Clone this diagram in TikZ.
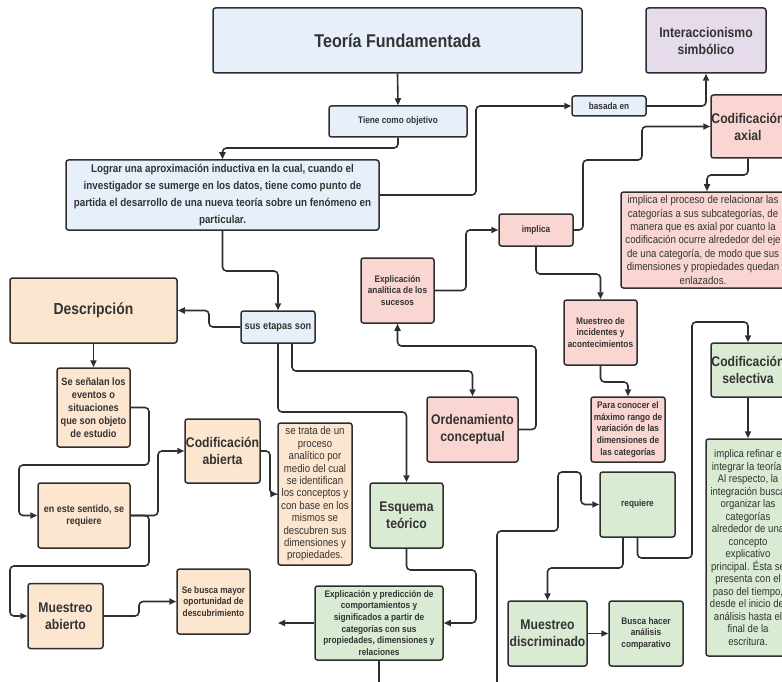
\documentclass[tikz,border=0pt]{standalone}
\usepackage{fontspec}
\setmainfont{Liberation Sans}[FakeStretch=0.87]
\usetikzlibrary{arrows.meta}

\definecolor{linec}{HTML}{2E2E2E}
\definecolor{txt}{HTML}{333333}
\definecolor{cblue}{HTML}{E7F0FA}
\definecolor{clav}{HTML}{E6DBEB}
\definecolor{cpink}{HTML}{F9D6D1}
\definecolor{cpeach}{HTML}{FDE6CF}
\definecolor{cgreen}{HTML}{DAEBD4}

\tikzset{
  box/.style={draw=linec, line width=1.5pt, rounded corners=2.5pt, inner sep=0pt,
    align=center, text=txt},
  bluebox/.style={box, fill=cblue},
  lavbox/.style={box, fill=clav},
  pinkbox/.style={box, fill=cpink},
  peachbox/.style={box, fill=cpeach},
  greenbox/.style={box, fill=cgreen},
  ftitle/.style={font=\fontsize{18.5}{22}\selectfont\bfseries},
  fhead/.style={font=\fontsize{14}{17}\selectfont\bfseries},
  fbig/.style={font=\fontsize{16}{19}\selectfont\bfseries},
  fsmall/.style={font=\fontsize{9.5}{11.7}\selectfont\bfseries},
  fmid/.style={font=\fontsize{10.6}{13.1}\selectfont\bfseries},
  fgoal/.style={font=\fontsize{11.3}{17.3}\selectfont\bfseries},
  freg/.style={font=\fontsize{11.1}{13.4}\selectfont},
  fregb/.style={font=\fontsize{11.1}{12.4}\selectfont},
  conn/.style={draw=linec, line width=1.6pt, rounded corners=4pt},
  arr/.style={conn, -{Triangle[length=7pt,width=6pt]}},
}

\begin{document}
\begin{tikzpicture}[x=1pt, y=-1pt]
\useasboundingbox (0,0) rectangle (782,682);

% ---------- nodes ----------
\node[bluebox, ftitle, minimum width=369pt, minimum height=65pt] (title) at (397.5,40.5) {Teoría Fundamentada};
\node[lavbox, fhead, minimum width=120pt, minimum height=65pt] (inter) at (706,40.5) {Interaccionismo\\simbólico};
\node[bluebox, fsmall, minimum width=138pt, minimum height=31pt] (tiene) at (398,121.5) {Tiene como objetivo};
\node[bluebox, fsmall, minimum width=74pt, minimum height=20pt] (basada) at (609,106) {basada en};
\node[pinkbox, fhead, minimum width=74pt, minimum height=63pt] (axial) at (748,126.5) {Codificación\\axial};
\node[bluebox, fgoal, minimum width=313pt, minimum height=70pt] (lograr) at (222.5,195)
  {Lograr una aproximación inductiva en la cual, cuando el\\
   investigador se sumerge en los datos, tiene como punto de\\
   partida el desarrollo de una nueva teoría sobre un fenómeno en\\
   particular.};
\node[pinkbox, freg, minimum width=164pt, minimum height=96pt] (axialtxt) at (703,240)
  {implica el proceso de relacionar las\\
   categorías a sus subcategorías, de\\
   manera que es axial por cuanto la\\
   codificación ocurre alrededor del eje\\
   de una categoría, de modo que sus\\
   dimensiones y propiedades quedan\\
   enlazados.};
\node[pinkbox, fsmall, minimum width=74pt, minimum height=32pt] (implica) at (536,230) {implica};
\node[pinkbox, fsmall, minimum width=73pt, minimum height=65pt] (explan) at (397.5,290.5)
  {Explicación\\analítica de los\\sucesos};
\node[pinkbox, fsmall, minimum width=73pt, minimum height=65pt] (mincid) at (600.5,332.5)
  {Muestreo de\\incidentes y\\acontecimientos};
\node[peachbox, fbig, minimum width=167pt, minimum height=65pt] (descr) at (93.5,310.5) {Descripción};
\node[bluebox, fmid, minimum width=74pt, minimum height=32pt] (etapas) at (278,327) {sus etapas son};
\node[peachbox, fmid, minimum width=73pt, minimum height=79pt] (senal) at (93.5,407.5)
  {Se señalan los\\eventos o\\situaciones\\que son objeto\\de estudio};
\node[peachbox, fhead, minimum width=75pt, minimum height=64pt] (codab) at (222.5,451) {Codificación\\abierta};
\node[peachbox, fregb, minimum width=74pt, minimum height=142pt] (setrata) at (315,494)
  {se trata de un\\proceso\\analítico por\\medio del cual\\se identifican\\los conceptos y\\
   con base en los\\mismos se\\descubren sus\\dimensiones y\\propiedades.};
\node[pinkbox, fhead, minimum width=91pt, minimum height=65pt] (orden) at (472.5,429.5) {Ordenamiento\\conceptual};
\node[pinkbox, fsmall, minimum width=74pt, minimum height=65pt] (paracon) at (628,429.5)
  {Para conocer el\\máximo rango de\\variación de las\\dimensiones de\\las categorías};
\node[greenbox, fhead, minimum width=74pt, minimum height=54pt] (codsel) at (748,370) {Codificación\\selectiva};
\node[greenbox, font=\fontsize{11}{12.5}\selectfont, minimum width=84pt, minimum height=217pt] (refinar) at (748,547.5)
  {implica refinar e\\integrar la teoría.\\Al respecto, la\\integración busca\\organizar las\\categorías\\
   alrededor de una\\concepto\\explicativo\\principal. Ésta se\\presenta con el\\paso del tiempo,\\
   desde el inicio del\\análisis hasta el\\final de la\\escritura.};
\node[peachbox, font=\fontsize{10.3}{11.7}\selectfont\bfseries, minimum width=92pt, minimum height=65pt] (sentido) at (84,515.5)
  {en este sentido, se\\requiere};
\node[greenbox, fhead, minimum width=73pt, minimum height=65pt] (esquema) at (406.5,515.5) {Esquema\\teórico};
\node[greenbox, fsmall, minimum width=75pt, minimum height=65pt] (requiere) at (637.5,504.5) {requiere};
\node[peachbox, fhead, minimum width=75pt, minimum height=65pt] (muesab) at (65.5,616) {Muestreo\\abierto};
\node[peachbox, fsmall, minimum width=73pt, minimum height=65pt] (busca) at (213.5,601.5)
  {Se busca mayor\\oportunidad de\\descubrimiento};
\node[greenbox, fsmall, minimum width=128pt, minimum height=74pt] (explpred) at (379,623)
  {Explicación y predicción de\\comportamientos y\\significados a partir de\\categorías con sus\\
   propiedades, dimensiones y\\relaciones};
\node[greenbox, fhead, minimum width=79pt, minimum height=65pt] (muesdis) at (547.5,633.5) {Muestreo\\discriminado};
\node[greenbox, fsmall, minimum width=74pt, minimum height=65pt] (buscahacer) at (646,633.5)
  {Busca hacer\\análisis\\comparativo};

% free ends of connectors leaving the page
\coordinate (leftEnd) at (278,623);
\coordinate (downEnd) at (379,690);
\coordinate (upStart) at (497,690);

% ---------- connectors ----------
\draw[arr] (title.south) -- (tiene.north);
\draw[arr] (tiene.south) -- (398,148) -| (lograr.north);
\draw[arr] (lograr.east) -- (476,195) |- (basada.west);
\draw[arr] (basada.east) -| (inter.south);
\draw[arr] (implica.east) -- (583,230) -- (583,160) -- (642,160) |- (axial.west);
\draw[arr] (axial.south) -- (748,175) -- (707,175) -- ([xshift=4pt]axialtxt.north);
\draw[arr] (explan.east) -- (466,290.5) |- (implica.west);
\draw[arr] (implica.south) |- (600.5,274) -- (mincid.north);
\draw[arr] (mincid.south) |- (628,382) -- (paracon.north);
\draw[arr] (lograr.south) |- (278,271) -- (etapas.north);
\draw[arr] (etapas.west) -- (209,327) |- (descr.east);
\draw[arr] ([xshift=14pt]etapas.south) |- (472.5,371) -- (orden.north);
\draw[arr] (etapas.south) |- (406.5,412) -- (esquema.north);
\draw[arr] (orden.east) -- (536,429.5) |- (397.5,346) -- (explan.south);
\draw[arr] (descr.south) -- (senal.north);
\draw[arr] (senal.east) -- (149,407.5) -- (149,465) -- (19,465) |- (sentido.west);
\draw[arr] (sentido.east) -- (158,515.5) |- (codab.west);
\draw[arr] (sentido.east) -- (149,515.5) -- (149,566) -- (10,566) |- (muesab.west);
\draw[arr] (muesab.east) -- (139,616) |- (busca.west);
\draw[arr] (codab.east) -- (270,451) |- (setrata.west);
\draw[arr] (esquema.south) |- (476,570) |- (explpred.east);
\draw[arr] (explpred.west) -- (leftEnd);
\draw[conn] (explpred.south) -- (downEnd);
\draw[arr] (upStart) -- (497,531) -- (558,531) -- (558,472) -- (581,472) |- (requiere.west);
\draw[arr] ([xshift=-14.5pt]requiere.south) |- (547.5,568) -- (muesdis.north);
\draw[arr] (requiere.south) |- (692,558) -- (692,322) -| (codsel.north);
\draw[arr] (codsel.south) -- (refinar.north);
\draw[arr] (muesdis.east) -- (buscahacer.west);
\end{tikzpicture}
\end{document}
